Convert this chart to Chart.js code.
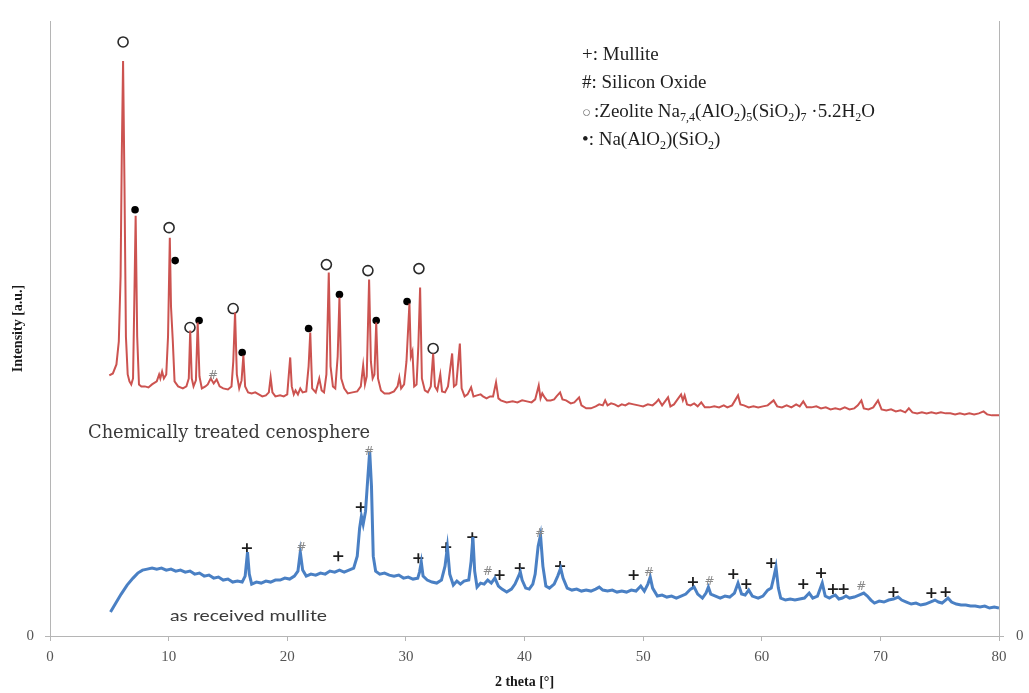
<!DOCTYPE html>
<html>
<head>
<meta charset="utf-8">
<title>XRD patterns</title>
<script src="https://cdn.jsdelivr.net/npm/chart.js@4.4.1/dist/chart.umd.min.js"></script>
<style>
    html, body { margin: 0; padding: 0; background: #ffffff; }
    #wrap { width: 1029px; height: 693px; }
</style>
</head>
<body>
<div id="wrap"><canvas id="xrdChart" width="1029" height="693"></canvas></div>
<script>
"use strict";

// chemically treated cenosphere (red)
const treatedAngle = [
    5.0, 5.3, 5.6, 5.8, 5.95, 6.05, 6.16, 6.28, 6.4, 6.55, 6.7, 6.85, 7.0, 7.1, 7.22, 7.35, 7.5, 7.7, 8.0, 8.3,
    8.6, 9.0, 9.2, 9.3, 9.45, 9.6, 9.8, 9.95, 10.1, 10.2, 10.35, 10.5, 10.8, 11.2, 11.5, 11.7, 11.82, 11.95, 12.1, 12.3,
    12.45, 12.6, 12.8, 13.1, 13.3, 13.55, 13.8, 14.05, 14.3, 14.6, 15.0, 15.3, 15.45, 15.6, 15.75, 15.95, 16.15, 16.3, 16.45, 16.7,
    17.0, 17.3, 17.6, 17.9, 18.2, 18.45, 18.6, 18.75, 19.0, 19.4, 19.7, 20.0, 20.12, 20.25, 20.38, 20.55, 20.7, 20.9, 21.1, 21.3,
    21.6, 21.8, 21.94, 22.1, 22.4, 22.7, 22.9, 23.1, 23.3, 23.5, 23.65, 23.85, 24.05, 24.25, 24.4, 24.55, 24.8, 25.1, 25.5, 25.9,
    26.2, 26.4, 26.55, 26.7, 26.9, 27.05, 27.2, 27.35, 27.5, 27.65, 27.9, 28.2, 28.6, 29.0, 29.3, 29.45, 29.6, 29.85, 30.05, 30.3,
    30.42, 30.55, 30.7, 30.9, 31.05, 31.2, 31.35, 31.6, 31.85, 32.1, 32.3, 32.45, 32.65, 32.9, 33.05, 33.3, 33.55, 33.9, 34.05, 34.25,
    34.55, 34.7, 34.95, 35.2, 35.5, 35.7, 36.0, 36.3, 36.5, 36.8, 37.1, 37.35, 37.6, 37.8, 38.0, 38.5, 39.0, 39.4, 39.8, 40.2,
    40.6, 40.9, 41.05, 41.2, 41.35, 41.5, 41.7, 41.9, 42.2, 42.5, 42.7, 43.0, 43.2, 43.5, 43.9, 44.2, 44.6, 44.8, 45.2, 45.6,
    46.0, 46.3, 46.6, 46.8, 47.0, 47.3, 47.6, 47.9, 48.2, 48.5, 48.8, 49.2, 49.6, 50.0, 50.4, 50.8, 51.1, 51.3, 51.6, 52.1,
    52.3, 52.6, 52.9, 53.2, 53.35, 53.5, 53.7, 54.0, 54.3, 54.6, 54.9, 55.2, 55.6, 56.0, 56.4, 56.8, 57.1, 57.5, 58.0, 58.2,
    58.5, 58.9, 59.3, 59.7, 60.1, 60.5, 61.0, 61.3, 61.7, 62.1, 62.5, 62.9, 63.2, 63.5, 63.8, 64.2, 64.6, 65.0, 65.4, 65.8,
    66.2, 66.6, 67.0, 67.4, 67.8, 68.1, 68.4, 68.6, 69.0, 69.4, 69.8, 70.1, 70.5, 70.9, 71.3, 71.7, 72.1, 72.4, 72.7, 73.1,
    73.5, 73.9, 74.3, 74.7, 75.1, 75.5, 75.9, 76.3, 76.7, 77.1, 77.5, 77.9, 78.3, 78.7, 79.0, 79.4, 79.8, 80.0
];
const treatedCounts = [
    261, 263, 272, 295, 360, 480, 576, 450, 300, 262, 255, 252, 258, 330, 421, 300, 252, 250, 250, 249,
    252, 255, 262, 258, 265, 258, 262, 300, 399, 330, 296, 255, 250, 248, 250, 258, 306, 258, 250, 256,
    314, 260, 248, 250, 252, 258, 253, 257, 250, 248, 247, 250, 275, 324, 262, 248, 256, 281, 250, 244,
    243, 244, 242, 240, 241, 244, 259, 244, 240, 241, 240, 242, 260, 279, 250, 242, 246, 242, 248, 244,
    245, 270, 304, 248, 244, 258, 246, 244, 262, 364, 270, 250, 248, 280, 339, 258, 248, 243, 244, 245,
    250, 271, 252, 260, 357, 275, 258, 262, 314, 258, 246, 243, 243, 245, 250, 259, 248, 252, 275, 333,
    280, 285, 250, 252, 290, 349, 258, 246, 244, 250, 283, 250, 246, 262, 245, 244, 250, 283, 250, 252,
    293, 248, 240, 242, 249, 240, 241, 242, 240, 238, 240, 240, 254, 238, 236, 234, 235, 234, 236, 235,
    234, 237, 244, 251, 238, 243, 239, 236, 236, 237, 240, 244, 237, 236, 233, 234, 239, 231, 228, 228,
    230, 232, 231, 236, 231, 233, 232, 230, 232, 231, 233, 232, 231, 230, 232, 231, 234, 237, 231, 239,
    230, 232, 237, 242, 236, 241, 232, 231, 233, 230, 234, 229, 229, 230, 229, 231, 229, 231, 241, 232,
    231, 229, 230, 229, 230, 231, 236, 230, 229, 231, 229, 232, 230, 235, 229, 229, 230, 228, 229, 227,
    228, 227, 229, 227, 228, 231, 236, 228, 227, 229, 236, 227, 226, 227, 225, 226, 224, 228, 224, 223,
    224, 223, 224, 223, 224, 223, 223, 222, 223, 222, 223, 222, 223, 225, 222, 221, 221, 221
];

// as received mullite (blue)
const mulliteAngle = [
    5.1, 5.5, 6.0, 6.5, 7.0, 7.4, 7.8, 8.2, 8.6, 9.0, 9.4, 9.8, 10.2, 10.6, 11.0, 11.4, 11.8, 12.2, 12.6, 13.0,
    13.4, 13.8, 14.2, 14.6, 15.0, 15.4, 15.8, 16.2, 16.45, 16.65, 16.8, 17.0, 17.4, 17.8, 18.2, 18.6, 19.0, 19.4, 19.8, 20.2,
    20.6, 20.9, 21.1, 21.3, 21.6, 22.0, 22.4, 22.8, 23.2, 23.6, 24.0, 24.4, 24.8, 25.2, 25.6, 25.9, 26.1, 26.25, 26.4, 26.6,
    26.8, 26.95, 27.1, 27.25, 27.45, 27.8, 28.2, 28.6, 29.0, 29.4, 29.8, 30.2, 30.6, 31.0, 31.15, 31.3, 31.45, 31.8, 32.2, 32.6,
    33.0, 33.3, 33.5, 33.7, 34.0, 34.3, 34.6, 34.9, 35.3, 35.5, 35.65, 35.8, 36.0, 36.3, 36.6, 36.9, 37.2, 37.5, 37.8, 38.1,
    38.5, 38.9, 39.2, 39.5, 39.65, 39.8, 40.1, 40.4, 40.7, 40.9, 41.15, 41.35, 41.55, 41.8, 42.1, 42.5, 42.8, 43.05, 43.25, 43.6,
    44.0, 44.4, 44.8, 45.2, 45.6, 46.0, 46.3, 46.6, 47.0, 47.4, 47.8, 48.2, 48.6, 49.0, 49.4, 49.8, 50.1, 50.4, 50.6, 50.8,
    51.2, 51.6, 52.0, 52.4, 52.8, 53.2, 53.6, 54.0, 54.3, 54.6, 55.0, 55.3, 55.5, 55.7, 56.1, 56.5, 56.9, 57.3, 57.7, 58.0,
    58.3, 58.6, 58.9, 59.2, 59.7, 60.1, 60.5, 60.8, 61.0, 61.2, 61.4, 61.6, 62.0, 62.4, 62.8, 63.2, 63.6, 64.0, 64.3, 64.7,
    65.1, 65.35, 65.7, 66.0, 66.2, 66.5, 66.8, 67.1, 67.4, 67.8, 68.2, 68.6, 68.9, 69.2, 69.5, 69.9, 70.3, 70.7, 71.1, 71.5,
    71.8, 72.2, 72.6, 73.0, 73.4, 73.8, 74.2, 74.6, 74.9, 75.2, 75.5, 75.7, 76.0, 76.4, 76.8, 77.2, 77.6, 78.0, 78.4, 78.8,
    79.2, 79.6, 80.0
];
const mulliteCounts = [
    24, 32, 42, 51, 58, 63, 66, 67, 68, 67, 68, 66, 67, 65, 66, 64, 65, 62, 63, 60,
    61, 58, 59, 56, 57, 54, 55, 54, 60, 84, 62, 52, 54, 53, 55, 54, 56, 56, 58, 57,
    60, 65, 84, 66, 60, 62, 61, 63, 62, 65, 64, 66, 64, 66, 68, 80, 108, 120, 112, 125,
    160, 185, 150, 80, 65, 62, 63, 61, 60, 61, 58, 59, 57, 58, 64, 74, 60, 56, 54, 53,
    56, 70, 89, 62, 51, 55, 52, 55, 56, 75, 99, 65, 49, 53, 52, 56, 53, 58, 50, 47,
    44, 47, 52, 60, 64, 56, 48, 47, 52, 62, 90, 101, 70, 50, 48, 52, 60, 68, 58, 48,
    46, 47, 45, 46, 45, 47, 49, 46, 45, 46, 44, 45, 44, 46, 45, 50, 45, 52, 59, 48,
    40, 41, 39, 40, 38, 40, 42, 47, 49, 42, 38, 43, 49, 42, 40, 38, 40, 39, 43, 53,
    42, 41, 46, 40, 38, 40, 46, 48, 58, 69, 48, 38, 36, 37, 36, 37, 38, 43, 38, 40,
    53, 40, 38, 40, 41, 37, 38, 40, 38, 39, 41, 43, 40, 36, 33, 35, 34, 36, 37, 39,
    36, 34, 32, 33, 31, 32, 34, 36, 34, 33, 36, 38, 34, 32, 31, 31, 30, 30, 29, 30,
    28, 29, 28
];

// phase marks: angle and height where the symbol sits
const zeoliteAngle = [6.16, 10.04, 11.8, 15.44, 23.3, 26.8, 31.1, 32.3];
const zeoliteLevel = [595, 409, 309, 328, 372, 366, 368, 288];
const sodaliteAngle = [7.17, 10.55, 12.57, 16.2, 21.8, 24.4, 27.5, 30.1];
const sodaliteLevel = [427, 376, 316, 284, 308, 342, 316, 335];
const mulliteMarkAngle = [16.6, 24.3, 26.2, 31.05, 33.4, 35.6, 37.9, 39.6, 43.0, 49.2, 54.2, 57.6, 58.7, 60.8, 63.5, 65.0, 66.0, 66.9, 71.1, 74.3, 75.5];
const mulliteMarkLevel = [88, 80, 129, 78, 89, 99, 61, 68, 70, 61, 54, 62, 52, 73, 52, 63, 47, 47, 44, 43, 44];
const silicaMarkAngle = [13.75, 21.2, 26.9, 36.9, 41.3, 50.5, 55.6, 68.4];
const silicaMarkLevel = [261, 88, 184, 64, 102, 63, 54, 49];

const xTicks = [0, 10, 20, 30, 40, 50, 60, 70, 80];

(() => {

    const serif = '"Liberation Serif", "Times New Roman", serif';
    const axisGray = '#b5b5b5';

    function toPoints(xs, ys) {
        return xs.map((x, i) => ({x: x, y: ys[i]}));
    }

    // draws a line of text with subscript parts, parts = [[text, isSub], ...]
    function drawRich(ctx, parts, x, y, size) {
        let cx = x;
        parts.forEach((part) => {
            let sub = part[1];
            ctx.font = (sub ? Math.round(size * 0.62) : size) + 'px ' + serif;
            ctx.fillText(part[0], cx, sub ? y + size * 0.22 : y);
            cx += ctx.measureText(part[0]).width;
        });
    }

    const textPlugin = {
        id: 'xrdText',
        afterDatasetsDraw(chart) {
            const ctx = chart.ctx;
            const xs = chart.scales.x;
            const ys = chart.scales.y;
            ctx.save();

            ctx.fillStyle = '#8a8a8a';
            ctx.font = '12px "DejaVu Sans"';
            ctx.textAlign = 'center';
            ctx.textBaseline = 'middle';
            silicaMarkAngle.forEach((a, i) => {
                ctx.fillText('#', xs.getPixelForValue(a), ys.getPixelForValue(silicaMarkLevel[i]));
            });

            ctx.textAlign = 'left';
            ctx.textBaseline = 'alphabetic';
            ctx.fillStyle = '#3a3a3a';
            ctx.font = '19px "DejaVu Serif"';
            ctx.save();
            let w = ctx.measureText('Chemically treated cenosphere').width;
            ctx.translate(88, 438);
            ctx.scale(282 / w, 1);
            ctx.fillText('Chemically treated cenosphere', 0, 0);
            ctx.restore();

            ctx.font = '16px Lato, "Open Sans", sans-serif';
            ctx.save();
            w = ctx.measureText('as received mullite').width;
            ctx.translate(170, 621);
            ctx.scale(157 / w, 1);
            ctx.fillText('as received mullite', 0, 0);
            ctx.restore();

            ctx.fillStyle = '#1e1e1e';
            const size = 19;
            drawRich(ctx, [['+: Mullite', false]], 582, 60, size);
            drawRich(ctx, [['#: Silicon Oxide', false]], 582, 88, size);
            ctx.fillStyle = '#777777';
            drawRich(ctx, [['\u25CB', false]], 582, 117, 15);
            ctx.fillStyle = '#1e1e1e';
            drawRich(ctx, [
                [':Zeolite Na', false], ['7,4', true], ['(AlO', false], ['2', true], [')', false], ['5', true],
                ['(SiO', false], ['2', true], [')', false], ['7', true], [' \u00B75.2H', false], ['2', true], ['O', false]
            ], 594, 117, size);
            drawRich(ctx, [['\u2022: Na(AlO', false], ['2', true], [')(SiO', false], ['2', true], [')', false]], 582, 145, size);

            ctx.restore();
        }
    };

    const ctx = document.getElementById('xrdChart');

    new Chart(ctx, {
        type: 'scatter',
        data: {
            datasets: [
                {
                    label: 'Chemically treated cenosphere',
                    data: toPoints(treatedAngle, treatedCounts),
                    showLine: true,
                    borderColor: '#cc5350',
                    borderWidth: 2,
                    pointRadius: 0,
                    tension: 0
                },
                {
                    label: 'as received mullite',
                    data: toPoints(mulliteAngle, mulliteCounts),
                    showLine: true,
                    borderColor: '#4a80c4',
                    borderWidth: 3,
                    pointRadius: 0,
                    tension: 0
                },
                {
                    label: 'Zeolite',
                    data: toPoints(zeoliteAngle, zeoliteLevel),
                    pointStyle: 'circle',
                    pointRadius: 5,
                    pointBorderWidth: 1.6,
                    pointBorderColor: '#2a2a2a',
                    pointBackgroundColor: '#ffffff'
                },
                {
                    label: 'Na(AlO2)(SiO2)',
                    data: toPoints(sodaliteAngle, sodaliteLevel),
                    pointStyle: 'circle',
                    pointRadius: 3.8,
                    pointBorderWidth: 0,
                    pointBackgroundColor: '#000000'
                },
                {
                    label: 'Mullite',
                    data: toPoints(mulliteMarkAngle, mulliteMarkLevel),
                    pointStyle: 'cross',
                    pointRadius: 5,
                    pointBorderWidth: 1.8,
                    pointBorderColor: '#1e1e1e'
                }
            ]
        },
        options: {
            responsive: false,
            animation: false,
            events: [],
            layout: {padding: {top: 20, left: 0, right: 0, bottom: 0}},
            plugins: {
                legend: {display: false},
                tooltip: {enabled: false}
            },
            scales: {
                x: {
                    type: 'linear',
                    min: 0,
                    max: 80,
                    afterBuildTicks: (axis) => {
                        axis.ticks = xTicks.map((v) => ({value: v}));
                    },
                    afterFit: (axis) => {
                        axis.height = 57;
                    },
                    grid: {drawOnChartArea: false, drawTicks: true, tickLength: 5, color: axisGray},
                    border: {display: true, color: axisGray, width: 1},
                    ticks: {color: '#555555', padding: 7, maxRotation: 0, font: {family: serif, size: 15}},
                    title: {
                        display: true,
                        text: '2 theta [\u00B0]',
                        color: '#1a1a1a',
                        padding: {top: 0, bottom: 2},
                        font: {family: serif, size: 14, weight: 'bold'}
                    }
                },
                y: {
                    position: 'left',
                    min: 0,
                    max: 616,
                    afterBuildTicks: (axis) => {
                        axis.ticks = [{value: 0}];
                    },
                    afterFit: (axis) => {
                        axis.width = 50;
                    },
                    grid: {drawOnChartArea: false, drawTicks: true, tickLength: 5, color: axisGray},
                    border: {display: true, color: axisGray, width: 1},
                    ticks: {color: '#555555', padding: 11, font: {family: serif, size: 15}},
                    title: {
                        display: true,
                        text: 'Intensity [a.u.]',
                        color: '#1a1a1a',
                        padding: {top: 10, bottom: 0},
                        font: {family: serif, size: 14, weight: 'bold'}
                    }
                },
                yRight: {
                    position: 'right',
                    min: 0,
                    max: 616,
                    afterBuildTicks: (axis) => {
                        axis.ticks = [{value: 0}];
                    },
                    afterFit: (axis) => {
                        axis.width = 30;
                    },
                    grid: {drawOnChartArea: false, drawTicks: true, tickLength: 5, color: axisGray},
                    border: {display: true, color: axisGray, width: 1},
                    ticks: {color: '#555555', padding: 12, font: {family: serif, size: 15}}
                }
            }
        },
        plugins: [textPlugin]
    });

})();
</script>
</body>
</html>
